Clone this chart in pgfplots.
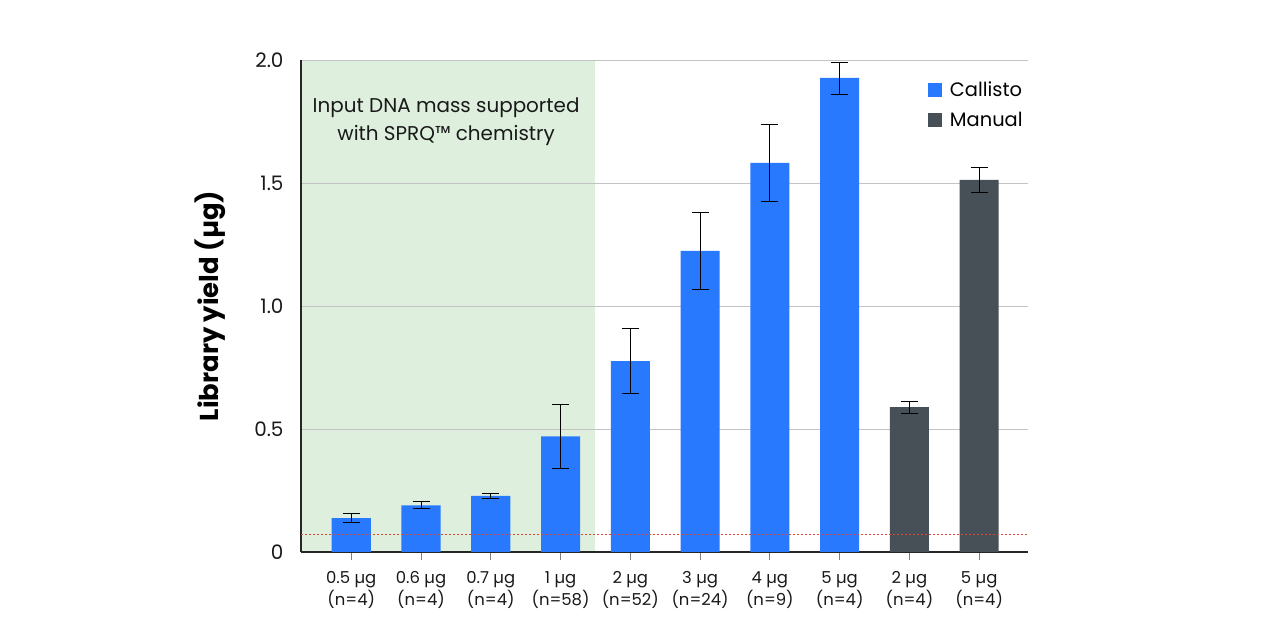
\documentclass[border=0pt]{standalone}
\usepackage{fontspec}
\setmainfont{Poppins}
\usepackage{pgfplots}
\pgfplotsset{compat=1.18}
\definecolor{cblue}{RGB}{41,121,255}
\definecolor{cgray}{RGB}{71,79,87}
\definecolor{cgreen}{RGB}{222,240,221}
\definecolor{cred}{RGB}{225,70,55}
\definecolor{gridc}{RGB}{195,195,195}
\definecolor{txt}{RGB}{25,25,25}
\begin{document}
\begin{tikzpicture}
\begin{axis}[
  at={(301bp,88bp)}, anchor=south west,
  scale only axis, width=727bp, height=492bp,
  set layers,
  xmin=-0.72, xmax=9.7, ymin=0, ymax=2,
  axis x line*=bottom, axis y line*=left,
  axis line style={draw=black!85, line width=1.3bp},
  ymajorgrids, grid style={draw=gridc, line width=0.8bp},
  ytick={0,0.5,1,1.5,2}, yticklabels={0,0.5,1.0,1.5,2.0},
  y tick label style={font=\fontsize{20}{23}\selectfont, text=txt, xshift=-6bp},
  ytick style={draw=none},
  xtick={0,...,9},
  xticklabels={{0.5 µg\\(n=4)},{0.6 µg\\(n=4)},{0.7 µg\\(n=4)},{1 µg\\(n=58)},{2 µg\\(n=52)},{3 µg\\(n=24)},{4 µg\\(n=9)},{5 µg\\(n=4)},{2 µg\\(n=4)},{5 µg\\(n=4)}},
  x tick label style={font=\fontsize{16.5}{22}\selectfont, text=txt, align=center, yshift=-8bp},
  xtick style={draw=gray, line width=0.8bp},
  tick align=outside, major tick length=8bp,
  ylabel={\bfseries Library yield (µg)},
  ylabel style={at={(axis description cs:-0.125,0.5)}, anchor=center, font=\fontsize{26}{29}\selectfont, text=black},
  legend style={at={(axis description cs:0.858,0.965)}, anchor=north west, draw=none, fill=none,
    font=\fontsize{19.5}{23}\selectfont, row sep=10bp, legend cell align=left,
    nodes={inner xsep=8bp}},
]
\addplot[fill=cgreen, draw=none, on layer=axis background, forget plot] coordinates {(-0.72,0) (3.5,0) (3.5,2) (-0.72,2)} -- cycle;

\addplot[ybar, bar width=0.56, bar shift=0pt, fill=cblue, draw=none,
  legend image code/.code={\fill[cblue] (0bp,-7bp) rectangle (14bp,7bp);},
  error bars/.cd, y dir=both, y explicit,
  error bar style={black, line width=0.8bp},
  error mark options={rotate=90, mark size=8.5bp, black, line width=0.8bp}]
  coordinates {
  (0,0.138) +- (0,0.017)
  (1,0.190) +- (0,0.014)
  (2,0.228) +- (0,0.009)
  (3,0.470) +- (0,0.130)
  (4,0.776) +- (0,0.132)
  (5,1.224) +- (0,0.158)
  (6,1.582) +- (0,0.157)
  (7,1.927) +- (0,0.065)
  };
\addlegendentry{Callisto}
\addplot[ybar, bar width=0.56, bar shift=0pt, fill=cgray, draw=none,
  legend image code/.code={\fill[cgray] (0bp,-7bp) rectangle (14bp,7bp);},
  error bars/.cd, y dir=both, y explicit,
  error bar style={black, line width=0.8bp},
  error mark options={rotate=90, mark size=8.5bp, black, line width=0.8bp}]
  coordinates {
  (8,0.589) +- (0,0.024)
  (9,1.513) +- (0,0.051)
  };
\addlegendentry{Manual}
\addplot[cred, dash pattern=on 2bp off 2bp, line width=1bp, forget plot] coordinates {(-0.72,0.073) (9.7,0.073)};

\node[align=center, font=\fontsize{20}{28}\selectfont, text=txt] at (axis cs:1.36,1.748) {Input DNA mass supported\\with SPRQ™ chemistry};
\end{axis}
\path (0,0) rectangle (1280bp,640bp);
\end{tikzpicture}
\end{document}
